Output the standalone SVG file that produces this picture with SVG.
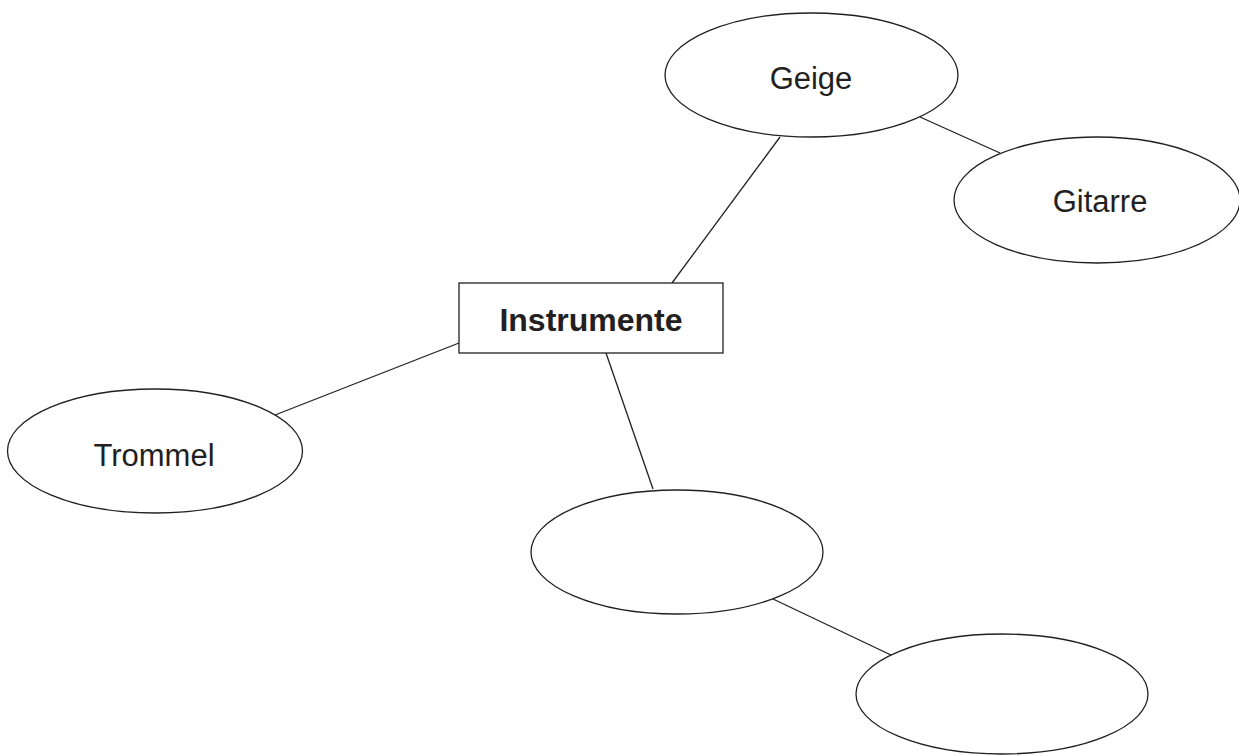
<svg xmlns="http://www.w3.org/2000/svg" width="1239" height="756" viewBox="0 0 1239 756">
  <style>
    .shape { fill: #ffffff; stroke: #231f20; stroke-width: 1.3; }
    .conn { stroke: #231f20; stroke-width: 1.3; fill: none; }
    .label { font-family: "Liberation Sans", Arial, sans-serif; font-size: 31px; fill: #231f20; text-anchor: middle; }
    .bold { font-weight: bold; font-size: 32px; }
  </style>
  <rect x="0" y="0" width="1239" height="756" fill="#ffffff"/>
  <g id="connectors">
    <line class="conn" x1="780" y1="137" x2="672" y2="283"/>
    <line class="conn" x1="920" y1="117" x2="1000" y2="153"/>
    <line class="conn" x1="459" y1="343" x2="275" y2="415"/>
    <line class="conn" x1="606" y1="353" x2="653" y2="489"/>
    <line class="conn" x1="773" y1="599" x2="893" y2="656"/>
  </g>
  <g id="node-geige">
    <ellipse class="shape" cx="811.5" cy="75" rx="146.5" ry="62"/>
    <text class="label" x="811" y="89">Geige</text>
  </g>
  <g id="node-gitarre">
    <ellipse class="shape" cx="1097" cy="200" rx="143" ry="63"/>
    <text class="label" x="1100" y="212">Gitarre</text>
  </g>
  <g id="node-instrumente">
    <rect class="shape" x="459" y="283" width="264" height="70"/>
    <text class="label bold" x="591" y="331">Instrumente</text>
  </g>
  <g id="node-trommel">
    <ellipse class="shape" cx="155" cy="451" rx="147.5" ry="62"/>
    <text class="label" x="154" y="466">Trommel</text>
  </g>
  <g id="node-empty1">
    <ellipse class="shape" cx="677" cy="552" rx="146" ry="62"/>
  </g>
  <g id="node-empty2">
    <ellipse class="shape" cx="1002" cy="694" rx="146" ry="60"/>
  </g>
</svg>
